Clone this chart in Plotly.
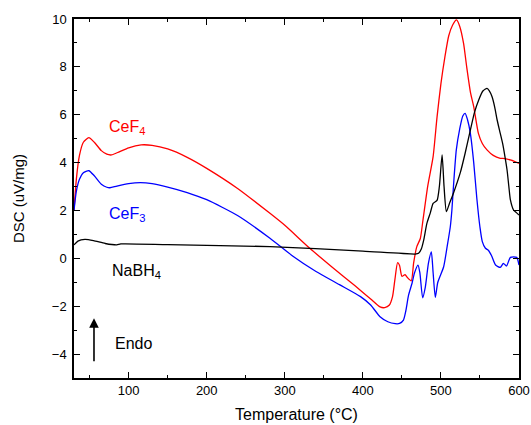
import plotly.graph_objects as go

# ---- data ----
cef4_x = [30, 33, 37, 42, 49, 56, 65, 72, 78, 88, 100, 116, 130, 150, 175, 200, 240, 281,
          300, 332, 360, 390, 410, 422, 428, 434, 438, 441, 444.5, 447, 450, 454, 457, 462, 465, 469,
          473.6, 477, 483, 490, 495, 500, 505, 510, 515, 520, 524, 529, 533, 538, 542, 548, 553, 559,
          567, 576, 582, 590, 600]
cef4_y = [2.0, 3.3, 4.3, 4.85, 5.04, 4.85, 4.5, 4.35, 4.32, 4.45, 4.62, 4.74, 4.72, 4.57, 4.22, 3.76,
          2.91, 1.88, 1.38, 0.42, -0.35, -1.15, -1.7, -2.03, -2.06, -1.95, -1.6, -0.9, -0.18,
          -0.3, -0.75, -0.68, -0.8, -0.94, -0.2, 0.48, 0.83, 1.6, 3.0, 4.25, 5.9, 7.3, 8.4, 9.3, 9.75,
          9.96, 9.7, 8.98, 8.0, 6.9, 6.34, 5.22, 4.8, 4.53, 4.3, 4.18, 4.17, 4.1, 3.97]

cef3_x = [30, 33, 37, 42, 49, 56, 65, 72, 76, 85, 100, 115, 130, 150, 175, 200, 240, 281,
          310, 340, 370, 397, 410, 422, 432, 441.5, 447, 452, 455, 458.6, 463, 466, 470.6, 473,
          476.6, 480, 484, 487.7, 490, 492.8, 496, 503.5, 508, 512, 514, 516.3, 519.7, 524, 528, 531,
          534, 537.7, 542, 546, 550, 553, 557, 561, 565, 570, 576, 580, 584, 589, 597, 600]
cef3_y = [2.0, 2.8, 3.3, 3.58, 3.66, 3.45, 3.1, 2.97, 2.95, 3.02, 3.12, 3.16, 3.12, 2.98, 2.75, 2.45,
          1.78, 0.84, 0.1, -0.55, -1.1, -1.6, -1.95, -2.44, -2.65, -2.73, -2.72, -2.58,
          -2.2, -1.53, -1.04, -0.62, -0.28, -0.6, -1.65, -1.2, -0.2, 0.27, -0.6, -1.63, -1.0, -0.35, 0.5,
          1.32, 2.0, 3.13, 4.53, 5.4, 5.95, 6.06, 5.8, 5.22, 4.0, 2.5, 1.3, 0.7, 0.42, 0.33, 0.1, -0.28,
          -0.38, -0.21, -0.32, 0.04, 0.04, -0.28]

nabh4_x = [30, 35, 44, 55, 70, 84.7, 90, 150, 281, 400, 467, 471.4, 475, 478, 482, 486.4, 490, 495,
           498, 501.5, 504, 507, 511, 516, 525, 531, 537.7, 543, 548.4, 554, 559, 562, 565.5, 569, 572,
           576, 579, 582, 584.7, 587, 589, 593, 597, 600]
nabh4_y = [0.56, 0.72, 0.79, 0.74, 0.62, 0.56, 0.6, 0.57, 0.49, 0.3, 0.18, 0.21, 0.4, 0.77, 1.46, 1.9,
           2.3, 2.42, 3.0, 4.32, 3.0, 1.95, 2.3, 2.72, 3.6, 4.39, 5.36, 6.1, 6.62, 7.0, 7.1, 7.0, 6.75,
           6.3, 5.78, 5.22, 4.8, 4.25, 3.69, 3.0, 2.44, 2.02, 1.9, 1.81]

x_range = [30, 600]
y_range = [-5, 10]

FONT = "Arial, Liberation Sans, sans-serif"

fig = go.Figure()
for xs, ys, col in [(cef4_x, cef4_y, "#ff0000"), (cef3_x, cef3_y, "#0000ff"), (nabh4_x, nabh4_y, "#000000")]:
    fig.add_trace(go.Scatter(x=xs, y=ys, mode="lines",
                             line=dict(color=col, width=1.3, shape="spline", smoothing=0.6),
                             showlegend=False, hoverinfo="skip"))

# labels
fig.add_annotation(x=72.3, y=5.45, text="CeF<sub>4</sub>", showarrow=False, xanchor="left", yanchor="middle",
                   font=dict(family=FONT, size=16, color="#ff0000"))
fig.add_annotation(x=72.3, y=1.85, text="CeF<sub>3</sub>", showarrow=False, xanchor="left", yanchor="middle",
                   font=dict(family=FONT, size=16, color="#0000ff"))
fig.add_annotation(x=76, y=-0.53, text="NaBH<sub>4</sub>", showarrow=False, xanchor="left", yanchor="middle",
                   font=dict(family=FONT, size=16, color="#000000"))
fig.add_annotation(x=79.6, y=-3.54, text="Endo", showarrow=False, xanchor="left", yanchor="middle",
                   font=dict(family=FONT, size=16, color="#000000"))
# arrow
fig.add_annotation(x=55.6, y=-2.5, ax=55.6, ay=-4.36, axref="x", ayref="y", xref="x", yref="y",
                   text="", showarrow=True, arrowhead=2, arrowsize=1.2, arrowwidth=1.6, arrowcolor="#000000")

axis_common = dict(showline=True, linecolor="#000000", linewidth=1.5, mirror="ticks",
                   ticks="inside", ticklen=6, tickwidth=1.3, tickcolor="#000000",
                   showgrid=False, zeroline=False,
                   tickfont=dict(family=FONT, size=13, color="#000000"))

fig.update_xaxes(range=x_range, dtick=100, tick0=0,
                 minor=dict(dtick=50, tick0=0, ticks="inside", ticklen=3, tickcolor="#000000", showgrid=False),
                 title=dict(text="Temperature (°C)", font=dict(family=FONT, size=16, color="#000000"), standoff=11),
                 **axis_common)
fig.update_yaxes(range=y_range, dtick=2, tick0=0, ticklabelstandoff=3,
                 minor=dict(dtick=1, tick0=0, ticks="inside", ticklen=3, tickcolor="#000000", showgrid=False),
                 title=dict(text="DSC (uV/mg)", font=dict(family=FONT, size=15, color="#000000"), standoff=24),
                 **axis_common)

fig.update_layout(width=531, height=425, margin=dict(l=74, r=12, t=19, b=47, autoexpand=False),
                  plot_bgcolor="#ffffff", paper_bgcolor="#ffffff")

# remove the default page margin so the figure sits at the window's top-left corner
fig.write_html("out.html", config={"displayModeBar": False},
               post_script="document.body.style.margin='0';document.body.style.overflow='hidden';")
